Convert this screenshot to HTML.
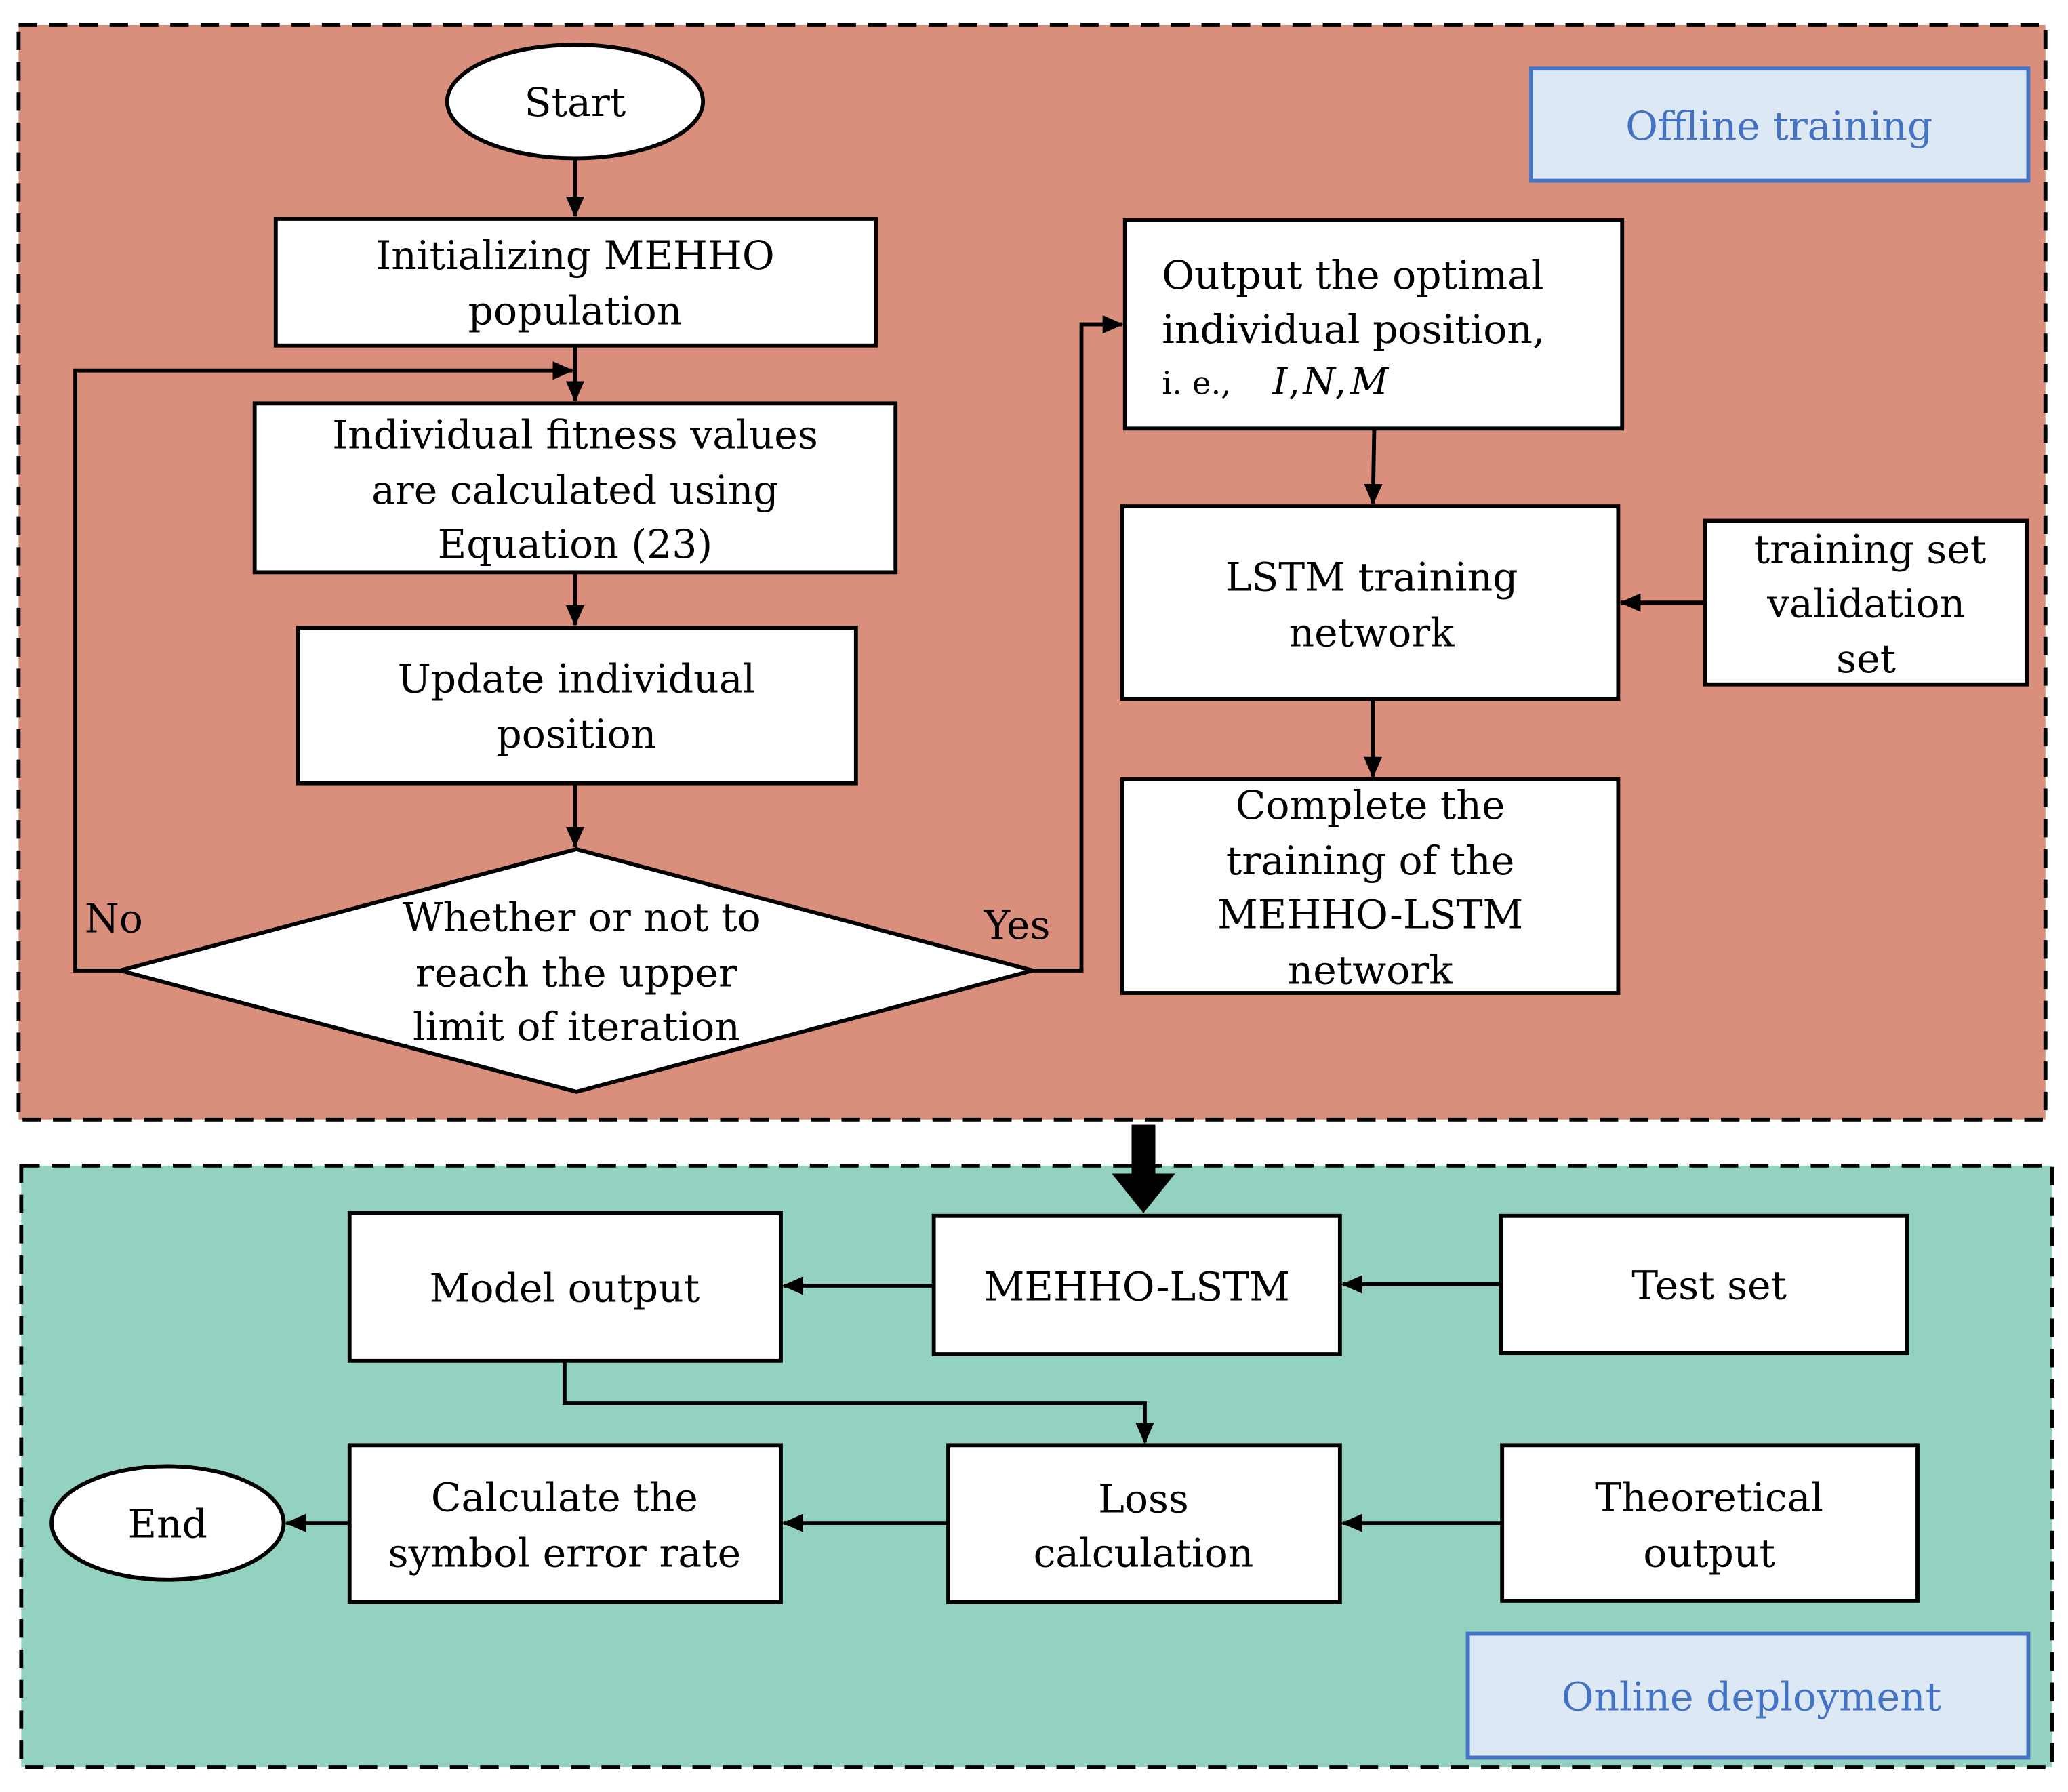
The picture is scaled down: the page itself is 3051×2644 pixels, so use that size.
<!DOCTYPE html>
<html><head><meta charset="utf-8"><style>
html,body{margin:0;padding:0;background:#fff;}
svg{display:block;}
text{font-family:"DejaVu Serif","Liberation Serif",serif;fill:#000;font-size:30px;}
</style></head><body>
<svg width="3051" height="2644" viewBox="0 0 1568 1359" xmlns="http://www.w3.org/2000/svg">
<defs>
<marker id="a" markerWidth="16" markerHeight="16" refX="15" refY="8" orient="auto" markerUnits="userSpaceOnUse" viewBox="0 0 16 16"><path d="M0,1 L16,8 L0,15 z" fill="#000"/></marker>
</defs>
<rect x="0" y="0" width="1568" height="1359" fill="#fff"/>
<rect x="14" y="19" width="1537" height="830" fill="#D98F7B" stroke="#000" stroke-width="3" stroke-dasharray="14,9"/>
<rect x="16" y="884" width="1540" height="456" fill="#93D1C0" stroke="#000" stroke-width="3" stroke-dasharray="14,9"/>

<g stroke="#000" stroke-width="3" fill="#fff">
<ellipse cx="436" cy="77" rx="97" ry="43"/>
<rect x="209" y="166" width="455" height="96"/>
<rect x="193" y="306" width="486" height="128"/>
<rect x="226" y="476" width="423" height="118"/>
<polygon points="91,736 437,644 783,736 437,828"/>
<rect x="853" y="167" width="377" height="158"/>
<rect x="851" y="384" width="376" height="146"/>
<rect x="1293" y="395" width="244" height="124"/>
<rect x="851" y="591" width="376" height="162"/>
<rect x="265" y="920" width="327" height="112"/>
<rect x="708" y="922" width="308" height="105"/>
<rect x="1138" y="922" width="308" height="104"/>
<ellipse cx="127" cy="1155" rx="88" ry="43"/>
<rect x="265" y="1096" width="327" height="119"/>
<rect x="719" y="1096" width="297" height="119"/>
<rect x="1139" y="1096" width="315" height="118"/>
</g>
<rect x="1161" y="52" width="377" height="85" fill="#DCE8F4" stroke="#4472C4" stroke-width="3"/>
<rect x="1113" y="1239" width="425" height="94" fill="#DCE8F4" stroke="#4472C4" stroke-width="3"/>

<g stroke="#000" stroke-width="3" fill="none" marker-end="url(#a)">
<line x1="436" y1="120" x2="436" y2="164"/>
<line x1="436" y1="262" x2="436" y2="304"/>
<line x1="436" y1="434" x2="436" y2="474"/>
<line x1="436" y1="594" x2="436" y2="642"/>
<polyline points="91,736 57,736 57,281 434,281"/>
<polyline points="783,736 820,736 820,246 851,246"/>
<line x1="1042" y1="325" x2="1041" y2="382"/>
<line x1="1293" y1="457" x2="1229" y2="457"/>
<line x1="1041" y1="530" x2="1041" y2="589"/>
<line x1="708" y1="975" x2="594" y2="975"/>
<line x1="1138" y1="974" x2="1018" y2="974"/>
<polyline points="428,1032 428,1064 868,1064 868,1094"/>
<line x1="719" y1="1155" x2="594" y2="1155"/>
<line x1="1139" y1="1155" x2="1018" y2="1155"/>
<line x1="265" y1="1155" x2="217" y2="1155"/>
</g>
<rect x="858" y="853" width="18" height="42" fill="#000"/>
<polygon points="843,890 891,890 867,920" fill="#000"/>

<g text-anchor="middle">
<text x="436" y="88">Start</text>
<text x="436" y="204">Initializing MEHHO</text>
<text x="436" y="246">population</text>
<text x="436" y="340">Individual fitness values</text>
<text x="436" y="382">are calculated using</text>
<text x="436" y="423">Equation (23)</text>
<text x="437" y="525">Update individual</text>
<text x="437" y="567">position</text>
<text x="441" y="706">Whether or not to</text>
<text x="437" y="748">reach the upper</text>
<text x="437" y="789">limit of iteration</text>
<text x="1040" y="448">LSTM training</text>
<text x="1040" y="490">network</text>
<text x="1418" y="427">training set</text>
<text x="1415" y="468">validation</text>
<text x="1415" y="510">set</text>
<text x="1039" y="621">Complete the</text>
<text x="1039" y="663">training of the</text>
<text x="1039" y="704">MEHHO-LSTM</text>
<text x="1039" y="746">network</text>
<text x="428" y="987">Model output</text>
<text x="862" y="986">MEHHO-LSTM</text>
<text x="1296" y="985">Test set</text>
<text x="127" y="1166">End</text>
<text x="428" y="1146">Calculate the</text>
<text x="428" y="1188">symbol error rate</text>
<text x="867" y="1147">Loss</text>
<text x="867" y="1188">calculation</text>
<text x="1296" y="1146">Theoretical</text>
<text x="1296" y="1188">output</text>
<text x="1349" y="106" style="fill:#4472C4">Offline training</text>
<text x="1328" y="1297" style="fill:#4472C4">Online deployment</text>
</g>
<text x="881" y="219">Output the optimal</text>
<text x="881" y="260">individual position,</text>
<text x="881" y="299" style="font-size:24px">i. e.,</text>
<text x="965" y="299" style="font-style:italic;font-size:28px">I</text><text x="977" y="299" style="font-size:28px">,</text>
<text x="988" y="299" style="font-style:italic;font-size:28px">N</text><text x="1012" y="299" style="font-size:28px">,</text>
<text x="1024" y="299" style="font-style:italic;font-size:28px">M</text>
<text x="64" y="707">No</text>
<text x="746" y="712">Yes</text>
</svg>
</body></html>
